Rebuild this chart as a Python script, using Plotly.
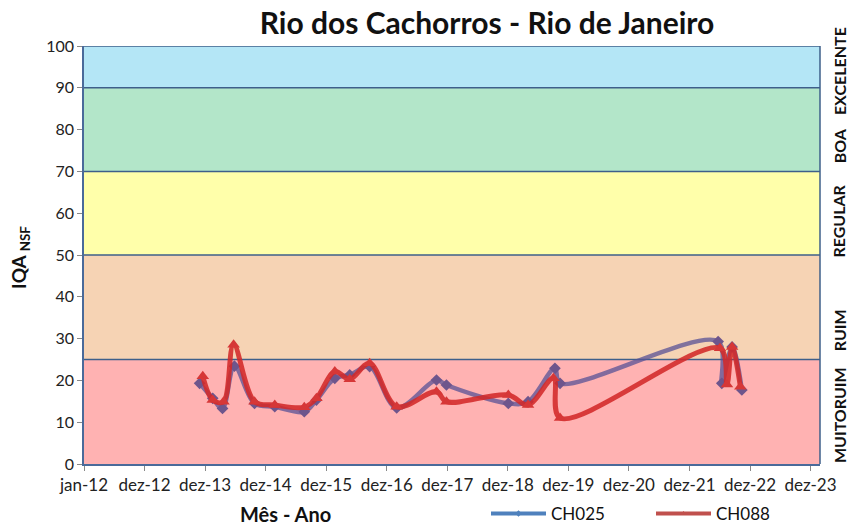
import plotly.graph_objects as go
import pandas as pd

# ---------------- data ----------------
ch025_dates = ["2013-11-28", "2014-02-15", "2014-04-15", "2014-06-26", "2014-10-25",
               "2015-02-24", "2015-08-21", "2015-11-02", "2016-02-21", "2016-05-21",
               "2016-09-18", "2017-02-28", "2017-10-26", "2017-12-25", "2019-01-02",
               "2019-05-01", "2019-10-10", "2019-11-10", "2022-06-20", "2022-07-12",
               "2022-09-12", "2022-11-10"]
ch025_values = [19.3, 15.7, 13.3, 23.4, 14.5, 13.7, 12.5, 15.3, 20.5, 21.3,
                23.3, 13.4, 20.1, 18.9, 14.5, 14.9, 22.9, 19.3, 29.3, 19.3,
                28.0, 17.7]

ch088_dates = ["2013-12-17", "2014-02-15", "2014-04-21", "2014-06-21", "2014-10-25",
               "2015-02-24", "2015-08-21", "2015-11-02", "2016-02-21", "2016-05-21",
               "2016-09-18", "2017-02-28", "2017-10-26", "2017-12-25", "2019-01-02",
               "2019-05-01", "2019-10-01", "2019-11-10", "2022-07-01", "2022-08-12",
               "2022-09-12", "2022-11-01"]
ch088_values = [21.0, 15.3, 14.9, 28.5, 14.9, 14.1, 13.6, 15.7, 22.1, 20.3,
                24.1, 13.7, 17.3, 14.9, 16.5, 14.1, 20.5, 11.0, 27.7, 19.0,
                28.0, 18.5]

x_tick_labels = ["jan-12", "dez-12", "dez-13", "dez-14", "dez-15", "dez-16", "dez-17",
                 "dez-18", "dez-19", "dez-20", "dez-21", "dez-22", "dez-23"]

band_limits = [0, 25, 50, 70, 90, 100]
band_names = ["MUITORUIM", "RUIM", "REGULAR", "BOA", "EXCELENTE"]
band_label_y = [11.7, 32, 58, 76, 94]

# ---------------- styling ----------------
FONT = "Lato"
band_colors = ["#FFB2B2", "#F6D3B4", "#FFFFAA", "#B3E6C9", "#B4E6F6"]
band_line = "#3E5F8A"

W, H = 850, 525
ML, MT = 84, 46
MR = W - 820
MB = H - 464
plot_w = W - ML - MR
plot_h = H - MT - MB


def px_x(x_ref):
    return (x_ref - ML) / plot_w


def px_y(y_ref):
    return 1 - (y_ref - MT) / plot_h


start = pd.Timestamp("2012-01-01")
tick_vals = [start + pd.Timedelta(days=365 * i) for i in range(len(x_tick_labels))]
x_end = start + pd.Timedelta(days=4437)

fig = go.Figure()

fig.add_trace(go.Scatter(
    x=ch025_dates, y=ch025_values, name="CH025", mode="lines+markers",
    line=dict(color="rgba(88,82,150,0.75)", width=4.5, shape="spline", smoothing=1.0),
    marker=dict(symbol="diamond", size=9, color="rgba(110,85,140,1)"),
    showlegend=False,
))
fig.add_trace(go.Scatter(
    x=ch088_dates, y=ch088_values, name="CH088", mode="lines+markers",
    line=dict(color="rgba(210,40,40,0.87)", width=5, shape="spline", smoothing=1.0),
    marker=dict(symbol="triangle-up", size=11, color="rgba(214,55,55,1)"),
    showlegend=False,
))
# legend entries
fig.add_trace(go.Scatter(
    x=[None], y=[None], name="CH025", mode="lines+markers",
    line=dict(color="#4F81BD", width=4), marker=dict(symbol="diamond", size=5, color="#4F81BD"),
))
fig.add_trace(go.Scatter(
    x=[None], y=[None], name="CH088", mode="lines+markers",
    line=dict(color="#C0504D", width=4), marker=dict(symbol="triangle-up", size=5, color="#C0504D"),
))

shapes = []
for i in range(len(band_names)):
    shapes.append(dict(type="rect", xref="paper", yref="y", x0=0, x1=1,
                       y0=band_limits[i], y1=band_limits[i + 1],
                       fillcolor=band_colors[i], line=dict(width=0), layer="below"))
for lim in band_limits[1:]:
    shapes.append(dict(type="line", xref="paper", yref="y", x0=0, x1=1, y0=lim, y1=lim,
                       line=dict(color=band_line, width=1.5), layer="below"))
shapes.append(dict(type="line", xref="paper", yref="y", x0=1, x1=1, y0=0, y1=100,
                   line=dict(color=band_line, width=1.5), layer="below"))

annotations = []
for name, yv in zip(band_names, band_label_y):
    annotations.append(dict(x=px_x(839), xref="paper", y=yv, yref="y",
                            xanchor="center", yanchor="middle",
                            text="<b>%s</b>" % name, textangle=-90, showarrow=False,
                            font=dict(family=FONT, size=16, color="#111111")))

# axis titles as annotations
annotations.append(dict(x=px_x(285), xref="paper", y=px_y(514), yref="paper",
                        text="<b>Mês - Ano</b>", showarrow=False, xanchor="center",
                        yanchor="middle",
                        font=dict(family=FONT, size=20, color="#111111")))
annotations.append(dict(x=px_x(20), xref="paper", y=px_y(258), yref="paper",
                        text="<b>IQA <sub>NSF</sub></b>", showarrow=False, textangle=-90,
                        xanchor="center", yanchor="middle",
                        font=dict(family=FONT, size=19, color="#111111")))

fig.update_layout(
    width=W, height=H,
    margin=dict(l=ML, r=MR, t=MT, b=MB, autoexpand=False),
    paper_bgcolor="white", plot_bgcolor="white",
    title=dict(text="<b>Rio dos Cachorros - Rio de Janeiro</b>", x=487 / W,
               xref="container", xanchor="center", y=1 - 23 / H, yref="container",
               yanchor="middle", font=dict(family=FONT, size=30, color="#111111"),
               automargin=False),
    font=dict(family=FONT, size=15, color="#222222"),
    shapes=shapes,
    annotations=annotations,
    legend=dict(orientation="h", x=px_x(486), y=px_y(496),
                xanchor="left", yanchor="top",
                font=dict(family=FONT, size=17, color="#111111"),
                itemwidth=55, entrywidth=95, entrywidthmode="pixels",
                bgcolor="rgba(0,0,0,0)"),
    xaxis=dict(
        type="date", range=[start, x_end], tickvals=tick_vals, ticktext=x_tick_labels,
        showgrid=False, zeroline=False, showline=True, linecolor="#4A6A9A", linewidth=1.5,
        ticks="outside", ticklen=5, tickcolor="#888888", automargin=False,
        tickfont=dict(family=FONT, size=17, color="#222222"),
    ),
    yaxis=dict(
        range=[0, 100], tickvals=list(range(0, 101, 10)),
        showgrid=False, zeroline=False, showline=True, linecolor="#4A6A9A", linewidth=1.5,
        ticks="outside", ticklen=5, tickcolor="#888888", automargin=False,
        tickfont=dict(family=FONT, size=16, color="#222222"),
    ),
)

fig.write_html("out.html",
               config={"displayModeBar": False},
               post_script="document.body.style.margin='0px';"
                           "document.body.style.overflow='hidden';")
